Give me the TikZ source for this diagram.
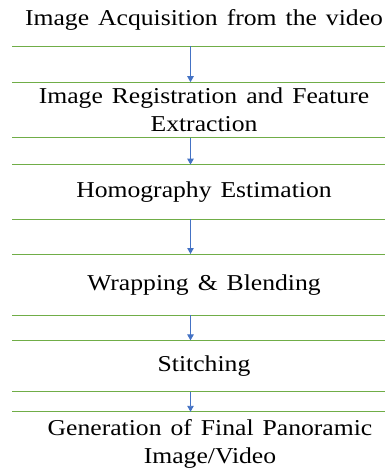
\documentclass[tikz,border=0pt]{standalone}
\usepackage{fontspec}
\setmainfont{Liberation Serif}[FakeStretch=1.13, WordSpace=1.4]
\usepackage{tikz}
\usetikzlibrary{positioning, arrows.meta}
\definecolor{rulegreen}{HTML}{70AD47}
\definecolor{flowblue}{HTML}{4472C4}

\begin{document}
\begin{tikzpicture}[x=1pt, y=-1pt,
  stage/.style={inner sep=0pt, minimum width=362pt, align=center, font=\fontsize{22.7}{27.5}\selectfont},
  rule/.style={draw=rulegreen, line width=1pt},
  flow/.style={draw=flowblue, line width=0.9pt, -{Triangle[length=6pt, width=6.5pt]}}]
\useasboundingbox (0,0) rectangle (385,470);
\coordinate (lft) at (12,0);
\coordinate (arw) at (190.5,0);
\node (acq) [stage, minimum height=52pt] at (204,20) {Image Acquisition from the video};
\node (reg) [stage, minimum height=55pt, below=36pt of acq] {Image Registration and Feature\\Extraction};
\node (hom) [stage, minimum height=54pt, below=27pt of reg] {Homography Estimation};
\node (wrp) [stage, minimum height=61pt, below=35pt of hom] {Wrapping \& Blending};
\node (sti) [stage, minimum height=51pt, below=25pt of wrp] {Stitching};
\node (gen) [stage, minimum height=64pt, minimum width=350pt, below=20pt of sti, xshift=6pt] {Generation of Final Panoramic\\Image/Video};
\draw[rule] (acq.north -| lft) -- (acq.north east);
\draw[rule] (acq.south -| lft) -- (acq.south east);
\draw[rule] (reg.north -| lft) -- (reg.north east);
\draw[rule] (reg.south -| lft) -- (reg.south east);
\draw[rule] (hom.north -| lft) -- (hom.north east);
\draw[rule] (hom.south -| lft) -- (hom.south east);
\draw[rule] (wrp.north -| lft) -- (wrp.north east);
\draw[rule] (wrp.south -| lft) -- (wrp.south east);
\draw[rule] (sti.north -| lft) -- (sti.north east);
\draw[rule] (sti.south -| lft) -- (sti.south east);
\draw[rule] (gen.north -| lft) -- (gen.north east);
\draw[rule] (gen.south -| lft) -- (gen.south east);
\draw[flow] (acq.south -| arw) -- (reg.north -| arw);
\draw[flow] (reg.south -| arw) -- (hom.north -| arw);
\draw[flow] (hom.south -| arw) -- (wrp.north -| arw);
\draw[flow] (wrp.south -| arw) -- (sti.north -| arw);
\draw[flow] (sti.south -| arw) -- (gen.north -| arw);
\end{tikzpicture}
\end{document}
